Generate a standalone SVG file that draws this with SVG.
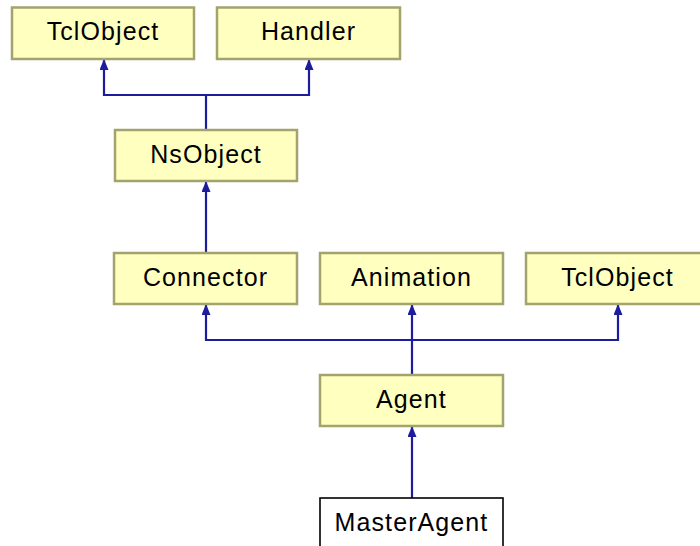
<svg xmlns="http://www.w3.org/2000/svg" width="700" height="546" viewBox="0 0 700 546">
  <style>
    .cls rect { fill: #ffffc0; stroke: #a3a36e; stroke-width: 2.5; }
    .leaf rect { fill: #ffffff; stroke: #000000; stroke-width: 1.6; }
    text { font-family: "Liberation Sans", Arial, sans-serif; font-size: 25px; letter-spacing: 1.1px; fill: #000000; text-anchor: middle; }
    .edge { fill: none; stroke: #1c1c9c; stroke-width: 2.2; marker-end: url(#inherit); }
    .edge-plain { fill: none; stroke: #1c1c9c; stroke-width: 2.2; }
  </style>
  <defs>
    <marker id="inherit" viewBox="0 0 11 9" refX="11" refY="4.5" markerWidth="11" markerHeight="9" markerUnits="userSpaceOnUse" orient="auto">
      <path d="M0,0 L11,4.5 L0,9 z" fill="#1c1c9c"/>
    </marker>
  </defs>
  <rect width="700" height="546" fill="#ffffff"/>

  <!-- inheritance edges -->
  <g id="connectors">
    <path class="edge-plain" d="M206,130 V95"/>
    <path class="edge" d="M206,95 H104 V59"/>
    <path class="edge" d="M206,95 H309 V59"/>
    <path class="edge" d="M206,253 V181"/>
    <path class="edge" d="M412,375 V304"/>
    <path class="edge" d="M412,340 H206 V304"/>
    <path class="edge" d="M412,340 H618 V304"/>
    <path class="edge" d="M412,498 V426"/>
  </g>

  <g id="tclobject1" class="cls">
    <rect x="12" y="7.5" width="182" height="51.5"/>
    <text x="103" y="40">TclObject</text>
  </g>
  <g id="handler" class="cls">
    <rect x="217" y="7.5" width="183" height="51.5"/>
    <text x="308.5" y="40">Handler</text>
  </g>
  <g id="nsobject" class="cls">
    <rect x="115" y="130" width="182" height="51"/>
    <text x="206" y="162.5">NsObject</text>
  </g>
  <g id="connector" class="cls">
    <rect x="114" y="253" width="183" height="51"/>
    <text x="205.5" y="285.5">Connector</text>
  </g>
  <g id="animation" class="cls">
    <rect x="320" y="253" width="183" height="51"/>
    <text x="411.5" y="285.5">Animation</text>
  </g>
  <g id="tclobject2" class="cls">
    <rect x="526" y="253" width="183" height="51"/>
    <text x="617.5" y="285.5">TclObject</text>
  </g>
  <g id="agent" class="cls">
    <rect x="320" y="375" width="183" height="51"/>
    <text x="411.5" y="407.5">Agent</text>
  </g>
  <g id="masteragent" class="leaf">
    <rect x="320" y="498" width="183" height="60"/>
    <text x="411.5" y="530.5">MasterAgent</text>
  </g>
</svg>
